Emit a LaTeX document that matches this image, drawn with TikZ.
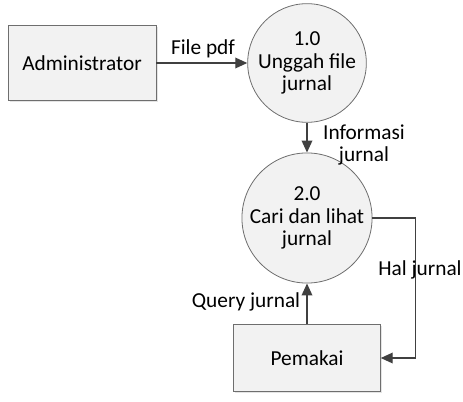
\documentclass[tikz,border=0pt]{standalone}
\usepackage{fontspec}
\setmainfont{Carlito}
\usetikzlibrary{arrows.meta,shadows}

\definecolor{garisabu}{RGB}{110,110,110}
\definecolor{isiabu}{RGB}{242,242,242}
\definecolor{panah}{RGB}{64,64,64}

\tikzset{
  entitas/.style={draw=garisabu, fill=isiabu, line width=0.6pt, inner sep=0pt,
    drop shadow={shadow xshift=1.2pt, shadow yshift=-1.2pt, fill=gray!35, opacity=0.6}},
  proses/.style={circle, draw=garisabu, fill=isiabu, line width=0.6pt, inner sep=0pt,
    minimum size=89pt, align=center},
  aliran/.style={draw=panah, line width=1pt, -{Triangle[length=9pt,width=8pt]}},
  label/.style={inner sep=0.75pt, align=center}
}

\begin{document}
\begin{tikzpicture}[x=0.75pt,y=0.75pt,yscale=-1,xscale=1]
\useasboundingbox (0,0) rectangle (463,402);
\fontsize{16}{17}\selectfont

% entitas luar
\node[entitas, minimum width=111pt, minimum height=56pt] (admin) at (82,63) {Administrator};
\node[entitas, minimum width=110pt, minimum height=50pt] (pemakai) at (307,358) {Pemakai};

% proses
\node[proses] (unggah) at (307,63) {1.0\\Unggah file\\jurnal};
\node[proses] (cari) at (307,218) {2.0\\Cari dan lihat\\jurnal};

% aliran data
\draw[aliran] (admin.east) -- (unggah.west);
\draw[aliran] (unggah.south) -- (cari.north);
\draw[aliran] (pemakai.north) -- (cari.south);
\draw[aliran] (cari.east) -- ++(43,0) |- (pemakai.east);

\draw (203,49) node [label] {File pdf};
\draw (364,145) node [label] {Informasi\\jurnal};
\draw (246,302) node [label] {Query jurnal};
\draw (420,270) node [label] {Hal jurnal};

\end{tikzpicture}
\end{document}
